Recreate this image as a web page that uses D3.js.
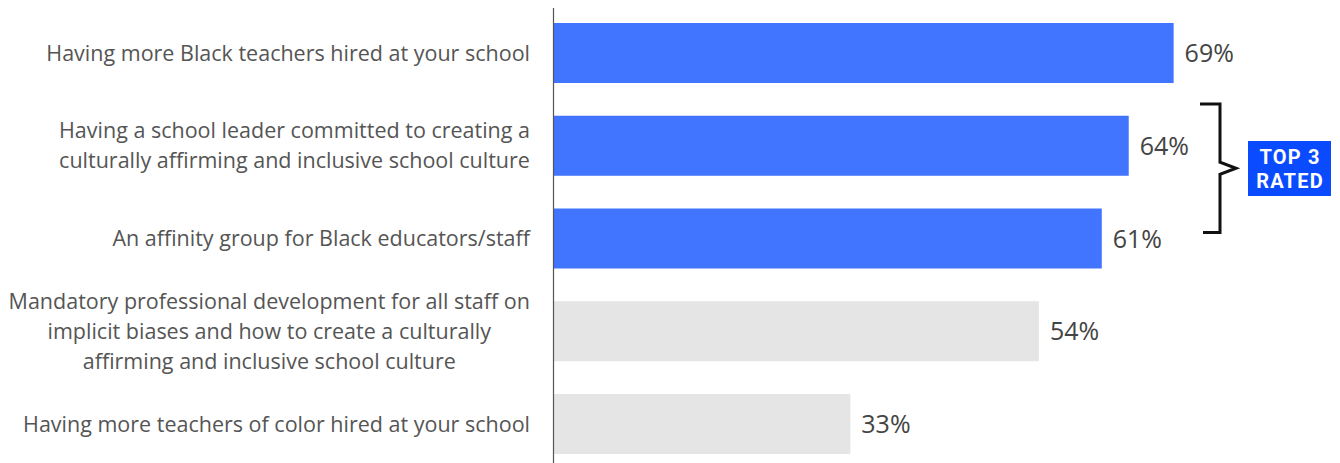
<!DOCTYPE html>
<html>
<head>
<meta charset="utf-8">
<script src="https://cdn.jsdelivr.net/npm/d3@7"></script>
<style>
  html, body { margin: 0; padding: 0; background: #fff; }
  svg { display: block; }
</style>
</head>
<body>
<svg id="chart" width="1340" height="463"></svg>
<script>
// Survey items, share of respondents, and which items are highlighted
const categories = [
  ["Having more Black teachers hired at your school"],
  ["Having a school leader committed to creating a", "culturally affirming and inclusive school culture"],
  ["An affinity group for Black educators/staff"],
  ["Mandatory professional development for all staff on", "implicit biases and how to create a culturally", "affirming and inclusive school culture"],
  ["Having more teachers of color hired at your school"]
];
const values = [69, 64, 61, 54, 33];
const highlighted = [true, true, true, false, false];
const calloutLines = ["TOP 3", "RATED"];

const svg = d3.select("#chart");
const font = "'Open Sans', Lato, sans-serif";

const x = d3.scaleLinear().domain([0, 100]).range([554, 1452]);
const y = d3.scaleBand().domain(d3.range(values.length)).range([23, 454]).paddingInner(0.353).paddingOuter(0);

// Bars
svg.append("g").selectAll("rect")
  .data(values)
  .join("rect")
  .attr("x", x(0))
  .attr("y", (d, i) => y(i))
  .attr("width", d => x(d) - x(0))
  .attr("height", y.bandwidth())
  .attr("fill", (d, i) => highlighted[i] ? "#4174ff" : "#e5e5e5");

// Value labels
svg.append("g").selectAll("text")
  .data(values)
  .join("text")
  .attr("x", d => x(d) + 11)
  .attr("y", (d, i) => y(i) + y.bandwidth() / 2)
  .attr("dy", "0.36em")
  .attr("font-family", font)
  .attr("font-size", 25)
  .attr("fill", "#444")
  .text(d => d + "%");

// Category labels, right-aligned, multi-line centred on each bar
const lineH = 30;
const labels = svg.append("g").selectAll("text")
  .data(categories)
  .join("text")
  .attr("text-anchor", "middle")
  .attr("font-family", font)
  .attr("font-size", 21.5)
  .attr("fill", "#555");
labels.each(function(lines, i) {
  const t = d3.select(this);
  const cy = y(i) + y.bandwidth() / 2;
  const first = cy - (lines.length - 1) * lineH / 2;
  lines.forEach((ln, k) => {
    t.append("tspan").attr("y", first + k * lineH).attr("dy", "0.36em").text(ln);
  });
});
// Align each block's right edge at x = 530, centring lines within the block
labels.each(function() {
  const t = d3.select(this);
  const spans = t.selectAll("tspan").nodes();
  const w = d3.max(spans, s => s.getComputedTextLength());
  spans.forEach(s => d3.select(s).attr("x", 530 - w / 2));
});

// Vertical axis line
svg.append("line")
  .attr("x1", 553.5).attr("x2", 553.5)
  .attr("y1", 8).attr("y2", 463)
  .attr("stroke", "#555").attr("stroke-width", 1.2);

// Curly bracket grouping the highlighted items
const topY = y(0) + 81, botY = y(2) + 24, midY = (topY + botY) / 2;
const bx = 1220;
svg.append("path")
  .attr("d", `M1200,${topY} H${bx} V${midY - 6} L${bx + 16},${midY} L${bx},${midY + 6} V${botY} H1203`)
  .attr("fill", "none")
  .attr("stroke", "#111")
  .attr("stroke-width", 3);

// Callout box
const box = svg.append("g");
box.append("rect")
  .attr("x", 1248).attr("y", 141)
  .attr("width", 83).attr("height", 55)
  .attr("fill", "#0a4bff");
box.selectAll("text.callout")
  .data(calloutLines)
  .join("text")
  .attr("class", "callout")
  .attr("x", 1290)
  .attr("y", (d, i) => 163.5 + i * 24.5)
  .attr("text-anchor", "middle")
  .attr("font-family", "Roboto, 'Open Sans', sans-serif")
  .attr("font-weight", "bold")
  .attr("font-size", 20)
  .attr("letter-spacing", 1.2)
  .attr("fill", "#fff")
  .text(d => d);
</script>
</body>
</html>
